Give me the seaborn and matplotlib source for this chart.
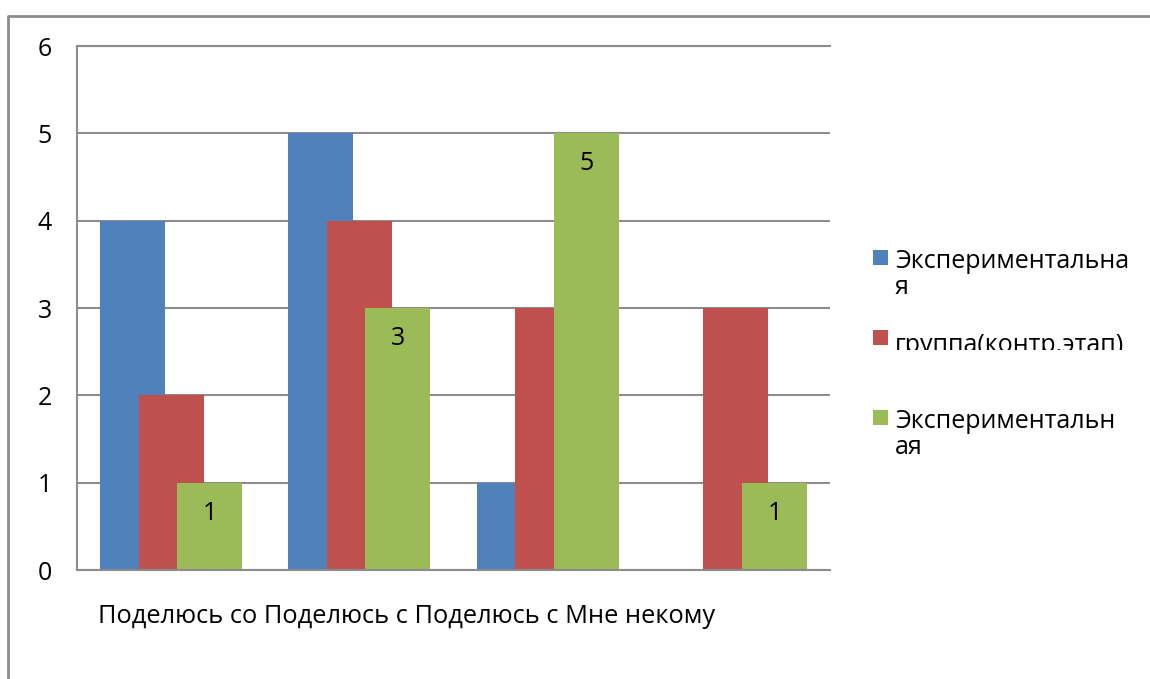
import numpy as np
import matplotlib
matplotlib.use("Agg")
import matplotlib.pyplot as plt
from matplotlib.patches import Rectangle
from matplotlib.lines import Line2D
import seaborn as sns

# Chart data
categories = ["Поделюсь со", "Поделюсь с", "Поделюсь с", "Мне некому"]
series_names = ["Экспериментальна\nя", "группа(контр.этап)", "Экспериментальн\nая"]
series_1 = [4, 5, 1, 0]
series_2 = [2, 4, 3, 3]
series_3 = [1, 3, 5, 1]
y_ticks = [0, 1, 2, 3, 4, 5, 6]

# Styling
colors = ["#4F81BD", "#C0504D", "#9BBB59"]
offsets = [-0.205, 0.0, 0.205]
bar_width = 0.345
grid_color = "#8c8c8c"
W, H = 1150, 679

sns.set_style("white")
plt.rcParams["font.family"] = ["Open Sans", "DejaVu Sans"]
plt.rcParams["text.color"] = "black"

fig = plt.figure(figsize=(W / 100, H / 100), dpi=100)
ax = fig.add_axes([77 / W, 109 / H, 753 / W, 524 / H])

pos = np.arange(len(categories))
for vals, off, col in zip([series_1, series_2, series_3], offsets, colors):
    sns.barplot(x=pos + off, y=vals, native_scale=True, width=bar_width,
                color=col, saturation=1, errorbar=None, linewidth=0,
                ax=ax, zorder=2)

# value labels inside the green bars
ax.bar_label(ax.containers[2], labels=[str(v) for v in series_3],
             padding=-31, fontsize=18, color="black")

ax.set_xlim(-0.5, len(categories) - 0.5)
ax.set_ylim(y_ticks[0], y_ticks[-1])
ax.set_yticks(y_ticks)
ax.set_yticklabels([str(t) for t in y_ticks])
ax.set_xticks([])
ax.set_xlabel("")
ax.set_ylabel("")
ax.tick_params(axis="y", length=0, pad=18, labelsize=18, labelcolor="black")

ax.yaxis.grid(True, color=grid_color, lw=1.5)
ax.set_axisbelow(True)
for side in ["left", "bottom", "top"]:
    ax.spines[side].set_visible(True)
    ax.spines[side].set_color(grid_color)
    ax.spines[side].set_linewidth(1.5)
ax.spines["right"].set_visible(False)

# category names, laid out as one running line
fig.text(98 / W, 1 - 623 / H, " ".join(categories), fontsize=18.3,
         ha="left", va="baseline")

# legend: square swatch beside the first text line of each entry
line_gap = 26.5
legend_rows = [258, 337, 417]
first_baselines = [267, 352, 427]
for name, col, yc, yb in zip(series_names, colors, legend_rows, first_baselines):
    fig.add_artist(Rectangle((873 / W, 1 - (yc + 7.5) / H), 15 / W, 15 / H,
                             transform=fig.transFigure, color=col, lw=0))
    n_extra = name.count("\n")
    t = fig.text(895 / W, 1 - (yb + n_extra * line_gap) / H, name, fontsize=18,
                 ha="left", va="baseline", linespacing=1.05)
    if n_extra == 0:
        # the single-line entry is cut off along its baseline
        t.set_clip_path(Rectangle((0, 1 - 350 / H), 1, 1, transform=fig.transFigure))
        t.set_clip_on(True)

# outer chart frame
fig.add_artist(Line2D([8 / W, 8 / W, 1], [0, 1 - 16 / H, 1 - 16 / H],
                      transform=fig.transFigure, color=grid_color, lw=2))

fig.savefig("out.png", dpi=100)
